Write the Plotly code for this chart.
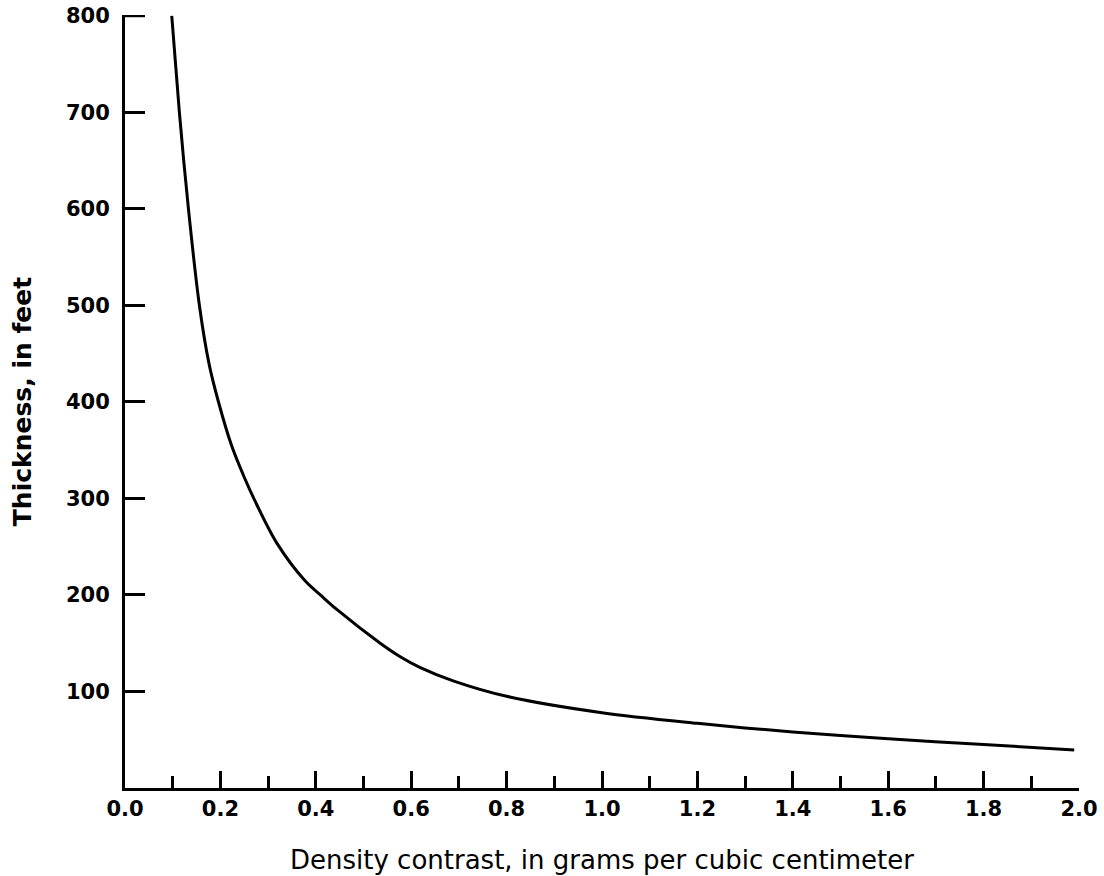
import plotly.graph_objects as go

density = [0.098, 0.114, 0.133, 0.156, 0.176, 0.196, 0.224, 0.250, 0.272, 0.318, 0.377,
           0.412, 0.444, 0.535, 0.577, 0.618, 0.688, 0.800, 1.000, 1.200, 1.400, 1.600,
           1.800, 1.990]
thickness = [800, 700, 600, 500, 440, 400, 354, 322, 298, 254, 215,
             199, 185, 150, 136, 125, 111, 95, 78, 67, 58, 51,
             45, 39.5]

x_ticks = [0.0, 0.2, 0.4, 0.6, 0.8, 1.0, 1.2, 1.4, 1.6, 1.8, 2.0]
x_tick_text = ["0.0", "0.2", "0.4", "0.6", "0.8", "1.0", "1.2", "1.4", "1.6", "1.8", "2.0"]
y_ticks = [100, 200, 300, 400, 500, 600, 700, 800]
y_tick_text = ["100", "200", "300", "400", "500", "600", "700", "800"]

W, H = 1104, 876
L, R, T, B = 125, 25, 15, 88
Y_TICKLEN = 20

fig = go.Figure()
fig.add_trace(go.Scatter(
    x=density, y=thickness, mode="lines",
    line=dict(color="black", width=3, shape="spline", smoothing=0.9),
    hoverinfo="skip", showlegend=False, cliponaxis=False,
))

# plotly hides the inside tick at the top edge; draw it as an axis-anchored segment
fig.add_shape(type="line", xref="x domain", yref="y",
              x0=0, x1=Y_TICKLEN / (W - L - R), y0=y_ticks[-1], y1=y_ticks[-1],
              line=dict(color="black", width=2.5), layer="above")

tick_font = dict(family="DejaVu Sans", size=21, color="black", weight="bold")

fig.update_layout(
    width=W, height=H,
    margin=dict(l=L, r=R, t=T, b=B, autoexpand=False),
    paper_bgcolor="white", plot_bgcolor="white",
    showlegend=False,
)
fig.update_xaxes(
    range=[0, 2.0], showgrid=False, zeroline=False, automargin=False,
    showline=True, linecolor="black", linewidth=3,
    ticks="inside", ticklen=17, tickwidth=2.5, tickcolor="black",
    tickvals=x_ticks, ticktext=x_tick_text, tickfont=tick_font,
    ticklabeloverflow="allow",
    minor=dict(ticks="inside", ticklen=12, tickwidth=2.5, tickcolor="black", dtick=0.1, tick0=0),
    title=dict(text="Density contrast, in grams per cubic centimeter",
               font=dict(family="DejaVu Sans", size=26, color="black"), standoff=31),
)
fig.update_yaxes(
    range=[0, 801], showgrid=False, zeroline=False, automargin=False,
    showline=True, linecolor="black", linewidth=3,
    ticks="inside", ticklen=Y_TICKLEN, tickwidth=2.5, tickcolor="black",
    tickvals=y_ticks, ticktext=y_tick_text, tickfont=tick_font,
    ticklabelstandoff=8, ticklabeloverflow="allow",
    title=dict(text="Thickness, in feet",
               font=dict(family="DejaVu Sans", size=25, color="black", weight="bold"), standoff=28),
)

fig.write_html("out.html", config={"displayModeBar": False},
               post_script="document.body.style.margin='0px';")
